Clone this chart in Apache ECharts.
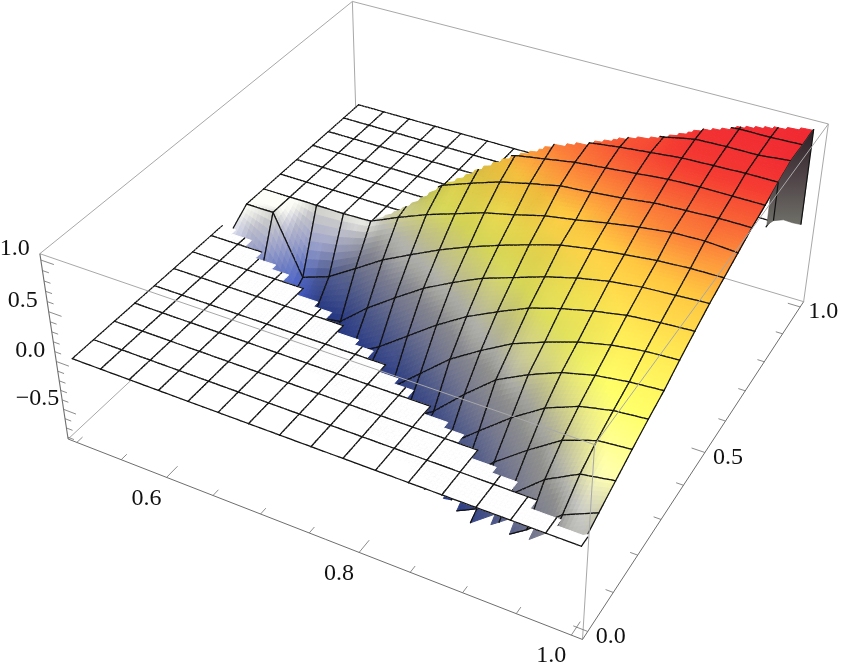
<!DOCTYPE html>
<html><head><meta charset="utf-8">
<style>html,body{margin:0;padding:0;background:#fff}#c{width:843px;height:670px}</style>
<script src="https://cdn.jsdelivr.net/npm/echarts@6/dist/echarts.min.js"></script>
</head><body><div id="c"></div>
<script>
// ---------- data ----------
const xMesh = [0.5, 1.0];           // surface extent in x, 16 mesh cells
const yMesh = [0.0, 1.0];           // surface extent in y, 16 mesh cells
const meshCells = 16;
// surface height at each mesh crossing: one row per y line (front to back), one value per x line
const surfaceZ = [
[-.78,-.78,-.78,-.78,-.78,-.78,-.78,-.78,-.78,-.78,-.78,-.78,-.78,-.7,-.45,-.2,0],
[-.78,-.78,-.78,-.78,-.78,-.78,-.78,-.78,-.78,-.78,-.78,-.78,-.76,-.55,-.33,-.055,.09],
[-.78,-.78,-.78,-.78,-.78,-.78,-.78,-.78,-.78,-.78,-.78,-.76,-.6,-.33,-.055,.12,.175],
[-.78,-.78,-.78,-.78,-.78,-.78,-.78,-.78,-.78,-.78,-.78,-.64,-.34,-.10,.115,.23,.26],
[-.78,-.78,-.78,-.78,-.78,-.78,-.78,-.78,-.78,-.78,-.61,-.35,-.10,.11,.24,.31,.34],
[-.78,-.78,-.78,-.78,-.78,-.78,-.78,-.78,-.78,-.58,-.29,-.03,.13,.26,.34,.385,.41],
[-.3,-.78,-.78,-.78,-.78,-.78,-.78,-.75,-.49,-.23,-.035,.14,.26,.365,.44,.485,.505],
[-.3,-.7,-.78,-.78,-.78,-.78,-.61,-.39,-.17,.02,.17,.31,.405,.48,.54,.57,.59],
[-.15,-.6,-.78,-.78,-.73,-.48,-.27,-.07,.09,.23,.335,.44,.525,.59,.63,.65,.67],
[0,0,-.62,-.515,-.33,-.14,.01,.155,.28,.39,.49,.58,.635,.675,.71,.73,.735],
[0,0,0,0,.01,.14,.26,.36,.46,.53,.61,.66,.72,.77,.81,.82,.80],
[0,0,0,0,0,.2,.40,.51,.61,.68,.745,.77,.80,.84,.855,.87,.87],
[0,0,0,0,0,.25,.45,.63,.72,.77,.82,.85,.88,.91,.92,.92,.92],
[0,0,0,0,0,.3,.5,.68,.78,.85,.86,.90,.93,.96,.97,.98,.98],
[0,0,0,0,0,.3,.5,.7,.8,.88,.9,.90,.93,.99,1.0,1.0,1.03],
[0,0,0,0,0,.3,.5,.7,.8,.88,.9,.92,.96,1.0,1.02,1.02,1.03],
[0,0,0,0,0,.3,.5,.7,.8,.88,.9,.92,.97,1.0,1.02,1.02,1.04]
];
// where the flat front sheet stops, in y-mesh steps, for each x line
const frontCut = [7.75,7.3,6.8,6.3,5.85,5.35,4.85,4.35,3.8,3.3,2.85,2.35,1.85,1.4,.95,.55,.25];
// where the coloured sheet gives way to the flat back sheet, in y-mesh steps, for each x line
const backCut = [10,10,10,10,10,10.5,11,11.5,12,12.55,12.95,13.55,14,14.55,15.1,15.6,15.95];
// dark curtain hanging under the corner at x = 1
const curtainStep = [12.4,13,14,15,15.95];
const curtainTop = [.94,.98,1.03,1.03,1.04];
const curtainBottom = [.66,.6,.44,.24,.06];
// axis ticks
const xMajor = [0.6,0.8,1.0];
const xMinor = [0.5,0.55,0.65,0.7,0.75,0.85,0.9,0.95];
const yMajor = [0,0.5,1.0];
const yMinor = [0.1,0.2,0.3,0.4,0.6,0.7,0.8,0.9];
const zMajor = [-0.5,0,0.5,1.0];
const zMinor = [-0.8,-0.7,-0.6,-0.4,-0.3,-0.2,-0.1,0.1,0.2,0.3,0.4,0.6,0.7,0.8,0.9];
const xLabels = ['0.6','0.8','1.0'];
const yLabels = ['0.0','0.5','1.0'];
const zLabels = ['\u22120.5','0.0','0.5','1.0'];
// ---------- view ----------
const range = {x:[.49,1.01], y:[-.02,1.02], z:[-.82,1.06]};
// camera calibration: box corner -> page pixel
const boxCorners = [
 [0,0,0,68,438],[1,0,0,583,640],[1,1,0,804,300],[0,1,0,357,171],
 [0,0,1,40,254],[1,0,1,594,445],[1,1,1,828,125],[0,1,1,353,0]];
function solveCamera(){
  const n=11, A=[...Array(n)].map(()=>Array(n+1).fill(0));
  const add=(r,b)=>{for(let i=0;i<n;i++){for(let j=0;j<n;j++)A[i][j]+=r[i]*r[j];A[i][n]+=r[i]*b;}};
  for(const [X,Y,Z,U,V] of boxCorners){
    const u=U/800,v=V/800;
    add([X,Y,Z,1,0,0,0,0,-u*X,-u*Y,-u*Z],u);
    add([0,0,0,0,X,Y,Z,1,-v*X,-v*Y,-v*Z],v);
  }
  for(let c=0;c<n;c++){
    let p=c;for(let r=c+1;r<n;r++)if(Math.abs(A[r][c])>Math.abs(A[p][c]))p=r;
    [A[c],A[p]]=[A[p],A[c]];
    for(let r=0;r<n;r++){if(r===c)continue;const f=A[r][c]/A[c][c];for(let k=c;k<=n;k++)A[r][k]-=f*A[c][k];}
  }
  return A.map((r,i)=>r[n]/r[i]);
}
const cam=solveCamera();
function project(x,y,z){
  const X=(x-range.x[0])/(range.x[1]-range.x[0]),Y=(y-range.y[0])/(range.y[1]-range.y[0]),Z=(z-range.z[0])/(range.z[1]-range.z[0]);
  const w=cam[8]*X+cam[9]*Y+cam[10]*Z+1;
  return [800*(cam[0]*X+cam[1]*Y+cam[2]*Z+cam[3])/w,800*(cam[4]*X+cam[5]*Y+cam[6]*Z+cam[7])/w];
}
const SUB=8, TOOTH=3;
function lerpList(a,t){const i=Math.min(a.length-2,Math.floor(t));return a[i]+(a[i+1]-a[i])*(t-i);}
function zAt(u,v){
  const i=Math.min(meshCells-1,Math.floor(u)),j=Math.min(meshCells-1,Math.floor(v)),a=u-i,b=v-j;
  return (surfaceZ[j][i]*(1-a)+surfaceZ[j][i+1]*a)*(1-b)+(surfaceZ[j+1][i]*(1-a)+surfaceZ[j+1][i+1]*a)*b;
}
function slopeU(u,v){
  const e=.5,a=Math.max(0,u-e),b=Math.min(meshCells,u+e);
  return (zAt(b,v)-zAt(a,v))/(b-a);
}
function slopeV(u,v){
  const e=.5,a=Math.max(0,v-e),b=Math.min(meshCells,v+e);
  return (zAt(u,b)-zAt(u,a))/(b-a);
}
const toX=u=>xMesh[0]+(xMesh[1]-xMesh[0])*u/meshCells, toY=v=>yMesh[0]+(yMesh[1]-yMesh[0])*v/meshCells;
const colorStops=[[-.78,50,80,215],[-.5,130,150,235],[-.27,200,205,245],[-.05,250,250,245],[.02,255,255,250],[.14,255,255,190],[.34,255,255,105],[.5,255,235,85],[.67,255,200,65],[.8,252,135,58],[.95,245,60,50],[1.04,240,40,50]];
function colorOf(z,shade){
  let i=0;while(i<colorStops.length-2&&z>colorStops[i+1][0])i++;
  const s=colorStops[i],e=colorStops[i+1],t=Math.max(0,Math.min(1,(z-s[0])/(e[0]-s[0])));
  return 'rgb('+[1,2,3].map(k=>Math.round((s[k]+(e[k]-s[k])*t)*shade)).join(',')+')';
}
function shadeAt(u,v,z){
  const along=Math.min(.25,Math.max(0,slopeV(u,v)-.1));
  let s=Math.max(.58,1-2*Math.max(0,slopeU(u,v)-.05)-.7*along);
  // the plateau along the cut is in shadow except on the left wall
  const far=Math.max(0,Math.min(1,u-2)), low=Math.max(0,Math.min(1,(-z-.35)/.2));
  const m=far*low;
  return s*(1-m)+Math.min(s,.6)*m;
}
function isFront(iu,iv){
  const u=(iu+.5)/SUB, v=(Math.floor((iv+.5)/SUB*TOOTH)+.5)/TOOTH;
  return v<lerpList(frontCut,u);
}
function isBack(iu,iv){
  return (iv+.5)/SUB>lerpList(backCut,(iu+.5)/SUB);
}
const cells=[];
for(let iu=0;iu<meshCells*SUB;iu++)for(let iv=meshCells*SUB-1;iv>=0;iv--)cells.push([iu,iv]);

function renderCell(params,api){
  const iu=api.value(0),iv=api.value(1),back=isBack(iu,iv),flat=isFront(iu,iv)||back;
  // the back sheet does not reach the last column: the surface is cut away there
  if(back&&iu/SUB>=15)return null;
  const u0=iu/SUB,u1=(iu+1)/SUB,v0=iv/SUB,v1=(iv+1)/SUB;
  const h=(u,v)=>flat?0:zAt(u,v);
  const P=(u,v)=>api.coord(project(toX(u),toY(v),h(u,v)));
  const a=P(u0,v0),b=P(u1,v0),c=P(u1,v1),d=P(u0,v1);
  let fill='#fff';
  if(!flat){
    const um=(u0+u1)/2,vm=(v0+v1)/2,z=zAt(um,vm);
    fill=colorOf(z,shadeAt(um,vm,z));
  }
  const kids=[{type:'polygon',shape:{points:[a,b,c,d]},style:{fill,stroke:fill,lineWidth:1},silent:true}];
  const edge=(p,q)=>kids.push({type:'line',shape:{x1:p[0],y1:p[1],x2:q[0],y2:q[1]},style:{stroke:'#111',lineWidth:1.25,lineCap:'round'},silent:true});
  if(iv%SUB===0)edge(a,b);
  if((iv+1)%SUB===0)edge(d,c);
  if(iu%SUB===0)edge(a,d);
  if((iu+1)%SUB===0)edge(b,c);
  return {type:'group',children:kids};
}
const corner=(i,j,k)=>[range.x[i],range.y[j],range.z[k]];
function seg(api,p,q,stroke,w){
  const a=api.coord(project(...p)),b=api.coord(project(...q));
  return {type:'line',shape:{x1:a[0],y1:a[1],x2:b[0],y2:b[1]},style:{stroke,lineWidth:w},silent:true};
}
const greyLine='#a8a8a8', axisLine='#6e6e6e';
const backEdges=[[[0,1,0],[0,1,1]],[[0,0,0],[0,1,0]],[[0,1,0],[1,1,0]],[[0,0,1],[0,1,1]],[[0,1,1],[1,1,1]]];
const frontEdges=[[[0,0,1],[1,0,1]],[[1,0,1],[1,1,1]],[[1,0,0],[1,0,1]],[[1,1,0],[1,1,1]]];
function renderBack(params,api){
  const [p,q]=backEdges[api.value(0)];
  return seg(api,corner(...p),corner(...q),greyLine,1);
}
function renderFront(params,api){
  const [p,q]=frontEdges[api.value(0)];
  return seg(api,corner(...p),corner(...q),greyLine,1);
}
function axisElements(api){
  const out=[], xa=range.x, ya=range.y, za=range.z;
  out.push(seg(api,[xa[0],ya[0],za[0]],[xa[1],ya[0],za[0]],axisLine,1));
  out.push(seg(api,[xa[1],ya[0],za[0]],[xa[1],ya[1],za[0]],axisLine,1));
  out.push(seg(api,[xa[0],ya[0],za[0]],[xa[0],ya[0],za[1]],axisLine,1.1));
  const tx=(x,l)=>out.push(seg(api,[x,ya[0],za[0]],[x,ya[0]+l,za[0]],axisLine,.8));
  const ty=(y,l)=>out.push(seg(api,[xa[1],y,za[0]],[xa[1]-l,y,za[0]],axisLine,.8));
  const tz=(z,l)=>out.push(seg(api,[xa[0],ya[0],z],[xa[0]+l,ya[0],z],axisLine,.8));
  xMajor.forEach(x=>tx(x,.034)); xMinor.forEach(x=>tx(x,.017));
  yMajor.forEach(y=>ty(y,.013)); yMinor.forEach(y=>ty(y,.007));
  zMajor.forEach(z=>tz(z,.014)); zMinor.forEach(z=>tz(z,.007));
  const txt=(t,p,dx,dy)=>{const c=api.coord(project(...p));out.push({type:'text',style:{text:t,x:c[0]+dx,y:c[1]+dy,fill:'#111',fontSize:24,fontFamily:'Liberation Serif',align:'center',verticalAlign:'middle'},silent:true});};
  xMajor.forEach((x,i)=>txt(xLabels[i],[x,ya[0],za[0]],-20,21));
  yMajor.forEach((y,i)=>txt(yLabels[i],[xa[1],y,za[0]],23,5));
  zMajor.forEach((z,i)=>txt(zLabels[i],[xa[0],ya[0],z],-26,-11));
  return out;
}
function renderCurtain(params,api){
  const pts=[];
  curtainStep.forEach((v,i)=>pts.push(api.coord(project(xMesh[1],toY(v),curtainTop[i]))));
  for(let i=curtainStep.length-1;i>=0;i--)pts.push(api.coord(project(xMesh[1],toY(curtainStep[i]),curtainBottom[i])));
  const grad=new echarts.graphic.LinearGradient(0,0,0,1,[{offset:0,color:'#2e2228'},{offset:.5,color:'#4f4347'},{offset:1,color:'#6f7068'}]);
  const kids=[{type:'polygon',shape:{points:pts},style:{fill:grad,stroke:'#55504f',lineWidth:.5},silent:true}];
  [1,curtainStep.length-1].forEach(i=>{
    kids.push(seg(api,[xMesh[1],toY(curtainStep[i]),curtainTop[i]],[xMesh[1],toY(curtainStep[i]),curtainBottom[i]],'#111',1.2));
  });
  return {type:'group',children:kids};
}
const chart=echarts.init(document.getElementById('c'),null,{renderer:'canvas'});
const base={type:'custom',coordinateSystem:'cartesian2d',animation:false,clip:false,silent:true,progressive:0,encode:{x:0,y:1}};
chart.setOption({
  animation:false,backgroundColor:'#fff',
  grid:{left:0,right:0,top:0,bottom:0},
  xAxis:{type:'value',min:0,max:843,show:false},
  yAxis:{type:'value',min:0,max:670,inverse:true,show:false},
  series:[
    Object.assign({},base,{data:backEdges.map((e,i)=>[i,0]),renderItem:renderBack,z:1}),
    Object.assign({},base,{data:cells,renderItem:renderCell,z:2}),
    Object.assign({},base,{data:[[0,0]],renderItem:renderCurtain,z:3}),
    Object.assign({},base,{data:frontEdges.map((e,i)=>[i,0]),renderItem:renderFront,z:4}),
    Object.assign({},base,{data:[[0,0]],renderItem:(p,api)=>({type:'group',children:axisElements(api)}),z:5})
  ]
});
</script></body></html>
